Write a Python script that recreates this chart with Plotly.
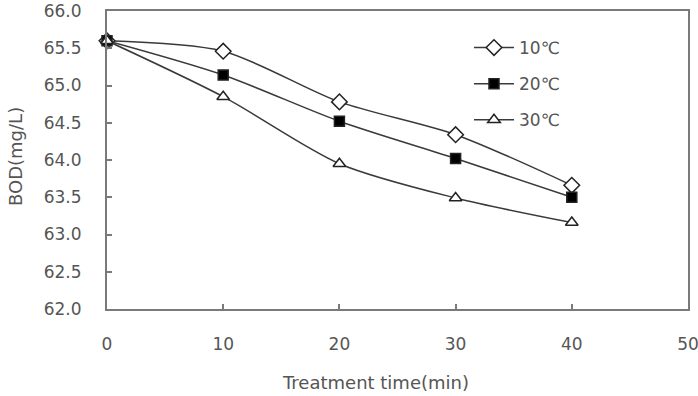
import plotly.graph_objects as go

times = [0, 10, 20, 30, 40]
bod_10 = [65.6, 65.46, 64.78, 64.34, 63.66]
bod_20 = [65.6, 65.14, 64.52, 64.02, 63.5]
bod_30 = [65.6, 64.85, 63.95, 63.49, 63.16]
series_names = ["10℃", "20℃", "30℃"]
y_ticks = [62.0, 62.5, 63.0, 63.5, 64.0, 64.5, 65.0, 65.5, 66.0]
x_ticks = [0, 10, 20, 30, 40, 50]
x_title = "Treatment time(min)"
y_title = "BOD(mg/L)"

FONT = "DejaVu Sans"
TXT = "#555555"
LINE = "#3a3a3a"
FRAME = "#7a7a7a"

W, H = 698, 396
ML, MR, MT, MB = 107, 10, 11, 87
PW, PH = W - ML - MR, H - MT - MB

fig = go.Figure()
styles = [
    dict(symbol="diamond", size=12, fill="white"),
    dict(symbol="square", size=10, fill="#000000"),
    dict(symbol="triangle-up", size=11, fill="white"),
]
for i, (name, vals) in enumerate(zip(series_names, [bod_10, bod_20, bod_30])):
    st = styles[i]
    fig.add_trace(go.Scatter(
        x=times, y=vals, name=name, mode="lines+markers",
        line=dict(color=LINE, width=1.5, shape="spline", smoothing=0.8),
        marker=dict(symbol=st["symbol"], size=st["size"], color=st["fill"],
                    line=dict(color="#222222", width=1.5)),
        legendgroup=f"g{i}", cliponaxis=False,
    ))

fig.update_layout(
    width=W, height=H,
    margin=dict(l=ML, r=MR, t=MT, b=MB),
    paper_bgcolor="white", plot_bgcolor="white",
    font=dict(family=FONT, color=TXT, size=17),
    showlegend=True,
    legend=dict(x=(469 - ML) / PW, y=1 - (30 - MT) / PH, xanchor="left", yanchor="top",
                font=dict(size=17, color=TXT), tracegroupgap=11,
                bgcolor="rgba(0,0,0,0)", itemwidth=40),
    annotations=[
        dict(text=x_title, xref="paper", yref="paper",
             x=(375 - ML) / PW, y=-(382 - (MT + PH)) / PH,
             xanchor="center", yanchor="middle", showarrow=False,
             font=dict(size=18, color=TXT)),
        dict(text=y_title, xref="paper", yref="paper",
             x=-(ML - 15) / PW, y=1 - (157 - MT) / PH, textangle=-90,
             xanchor="center", yanchor="middle", showarrow=False,
             font=dict(size=18, color=TXT)),
    ],
)
fig.update_xaxes(
    range=[0, 50], tickvals=x_ticks, ticktext=[str(v) for v in x_ticks],
    showgrid=False, zeroline=False, automargin=False, ticklabeloverflow="allow",
    showline=True, linecolor=FRAME, linewidth=2, mirror=True,
    ticks="inside", ticklen=5, tickcolor=FRAME, tickwidth=1.5,
    tickfont=dict(size=17, color=TXT), ticklabelstandoff=19,
)
fig.update_yaxes(
    range=[62.0, 66.0], tickvals=y_ticks, ticktext=[f"{v:.1f}" for v in y_ticks],
    showgrid=False, zeroline=False, automargin=False, ticklabeloverflow="allow",
    showline=True, linecolor=FRAME, linewidth=2, mirror=True,
    ticks="inside", ticklen=5, tickcolor=FRAME, tickwidth=1.5,
    tickfont=dict(size=17, color=TXT), ticklabelstandoff=20,
)

fig.write_html("out.html")
